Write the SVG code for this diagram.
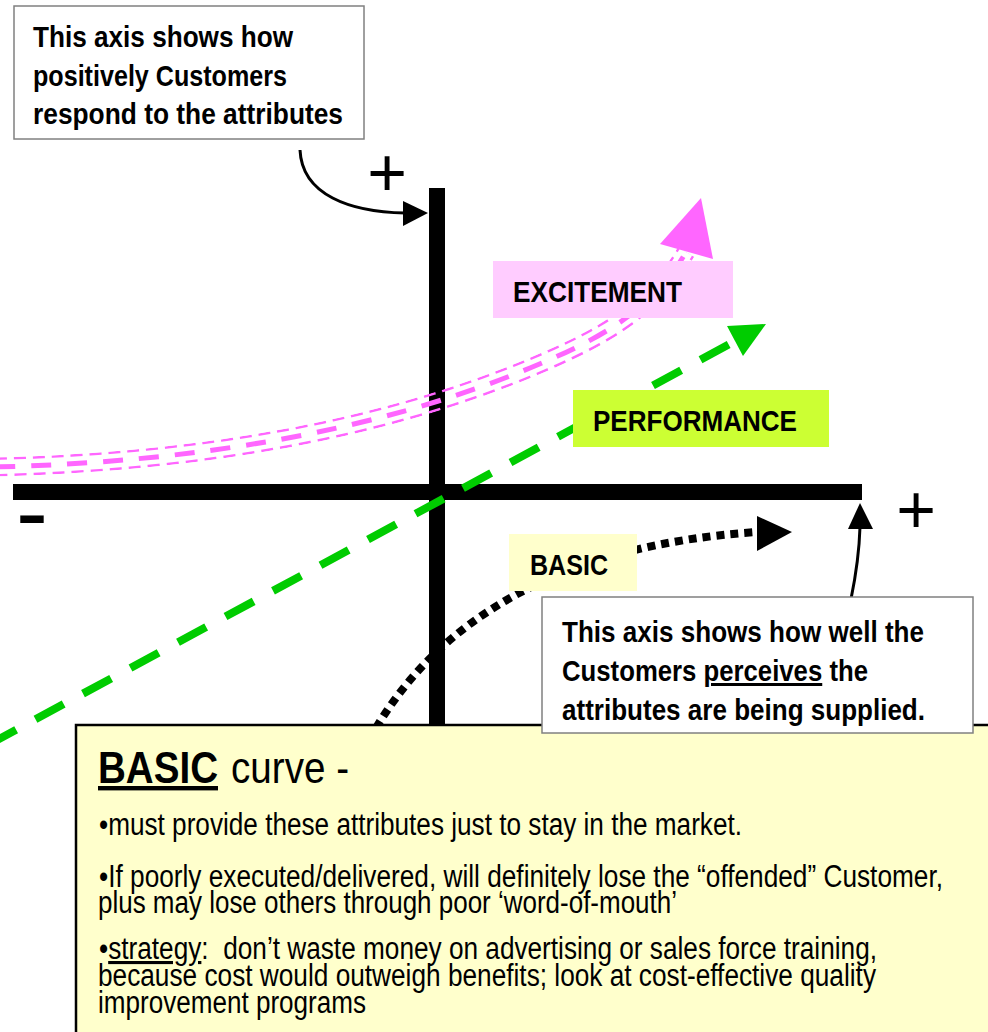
<svg xmlns="http://www.w3.org/2000/svg" xmlns:xlink="http://www.w3.org/1999/xlink" width="988" height="1032" viewBox="0 0 988 1032">
  <style>
    .t { font-family: "Liberation Sans", Arial, sans-serif; fill: #000; }
    .b { font-weight: bold; }
    .note { fill: #ffffff; stroke: #808080; stroke-width: 1.5; }
    .lbl { font-size: 30px; font-weight: bold; }
    .nt { font-size: 30px; font-weight: bold; }
    .bul { font-size: 31px; }
    .u { text-decoration: underline; }
    .axis { fill: #000; }
    .callout { fill: none; stroke: #000; stroke-width: 3; }
  </style>
  <defs>
    <path id="pinkCurve" d="M-5,467 C 200,462 380,430 530,368 C 590,343 650,315 686,252"/>
    <mask id="pinkBand" maskUnits="userSpaceOnUse" x="-20" y="0" width="1020" height="1032">
      <use xlink:href="#pinkCurve" href="#pinkCurve" fill="none" stroke="#fff" stroke-width="19"/>
      <use xlink:href="#pinkCurve" href="#pinkCurve" fill="none" stroke="#000" stroke-width="14"/>
    </mask>
  </defs>
  <rect width="988" height="1032" fill="#ffffff"/>

  <g id="axes">
    <rect class="axis" x="429" y="188" width="16" height="545"/>
    <rect class="axis" x="13" y="484" width="849" height="16"/>
  </g>

  <g id="axis-signs">
    <text id="plus-y" class="t" x="387" y="196" font-size="68" text-anchor="middle">+</text>
    <text id="plus-x" class="t" x="916" y="533" font-size="68" text-anchor="middle">+</text>
    <text id="minus-x" class="t" x="32" y="545" font-size="96" text-anchor="middle">-</text>
  </g>

  <g id="connectors">
    <!-- excitement curve: thin-thick-thin dashed -->
    <g mask="url(#pinkBand)">
      <use xlink:href="#pinkCurve" href="#pinkCurve" fill="none" stroke="#ff66ff" stroke-width="19" stroke-dasharray="12 7"/>
    </g>
    <use xlink:href="#pinkCurve" href="#pinkCurve" fill="none" stroke="#ff66ff" stroke-width="5" stroke-dasharray="20 16"/>
    <polygon points="660,244 701,198 713,259" fill="#ff66ff"/>

    <!-- performance line -->
    <path d="M-12,745 L737,340" fill="none" stroke="#00cc00" stroke-width="8" stroke-dasharray="32 22"/>
    <polygon points="727,326 766,324 743,356" fill="#00cc00"/>

    <!-- basic curve -->
    <path d="M376,728 C 440,620 560,545 757,532" fill="none" stroke="#000" stroke-width="8" stroke-dasharray="8 6"/>
    <polygon points="757,516 792,532 757,551" fill="#000"/>

    <!-- callout arrows -->
    <path class="callout" d="M300,150 C 302,195 350,212 405,213"/>
    <polygon points="428,213 403,201 403,226" fill="#000"/>
    <path class="callout" d="M851,599 Q 859,560 860,527"/>
    <polygon points="860,503 848,529 873,529" fill="#000"/>
  </g>

  <g id="label-excitement">
    <rect x="493" y="261" width="240" height="57" fill="#ffccff"/>
    <text class="t lbl" x="513" y="302" textLength="169" lengthAdjust="spacingAndGlyphs">EXCITEMENT</text>
  </g>

  <g id="label-performance">
    <rect x="573" y="390" width="256" height="57" fill="#ccff33"/>
    <text class="t lbl" x="593" y="431" textLength="204" lengthAdjust="spacingAndGlyphs">PERFORMANCE</text>
  </g>

  <g id="label-basic">
    <rect x="509" y="534" width="128" height="57" fill="#ffffcc"/>
    <text class="t lbl" x="530" y="575" textLength="78" lengthAdjust="spacingAndGlyphs">BASIC</text>
  </g>

  <g id="note-y-axis">
    <rect class="note" x="14" y="6" width="350" height="133"/>
    <text class="t nt" x="33" y="47" textLength="260" lengthAdjust="spacingAndGlyphs">This axis shows how</text>
    <text class="t nt" x="33" y="86" textLength="254" lengthAdjust="spacingAndGlyphs">positively Customers</text>
    <text class="t nt" x="33" y="124" textLength="310" lengthAdjust="spacingAndGlyphs">respond to the attributes</text>
  </g>

  <g id="basic-curve-panel">
    <rect x="76" y="725" width="940" height="330" fill="#ffffcc" stroke="#000" stroke-width="2.5"/>
    <text class="t b u" x="98" y="783" font-size="44" textLength="120" lengthAdjust="spacingAndGlyphs">BASIC</text>
    <text class="t" x="231" y="783" font-size="44" textLength="118" lengthAdjust="spacingAndGlyphs">curve -</text>
    <text class="t bul" x="99" y="835" textLength="643" lengthAdjust="spacingAndGlyphs">•must provide these attributes just to stay in the market.</text>
    <text class="t bul" x="99" y="887" textLength="844" lengthAdjust="spacingAndGlyphs">•If poorly executed/delivered, will definitely lose the “offended” Customer,</text>
    <text class="t bul" x="98" y="913" textLength="579" lengthAdjust="spacingAndGlyphs">plus may lose others through poor ‘word-of-mouth’</text>
    <text class="t bul" x="99" y="959" textLength="778" lengthAdjust="spacingAndGlyphs" style="white-space:pre">•<tspan class="u">strategy</tspan>:  don’t waste money on advertising or sales force training,</text>
    <text class="t bul" x="98" y="986" textLength="778" lengthAdjust="spacingAndGlyphs">because cost would outweigh benefits; look at cost-effective quality</text>
    <text class="t bul" x="98" y="1013" textLength="268" lengthAdjust="spacingAndGlyphs">improvement programs</text>
  </g>

  <g id="note-x-axis">
    <rect class="note" x="542" y="597" width="431" height="136"/>
    <text class="t nt" x="562" y="642" textLength="362" lengthAdjust="spacingAndGlyphs">This axis shows how well the</text>
    <text class="t nt" x="562" y="681" textLength="306" lengthAdjust="spacingAndGlyphs">Customers <tspan class="u">perceives</tspan> the</text>
    <text class="t nt" x="562" y="720" textLength="363" lengthAdjust="spacingAndGlyphs">attributes are being supplied.</text>
  </g>
</svg>
